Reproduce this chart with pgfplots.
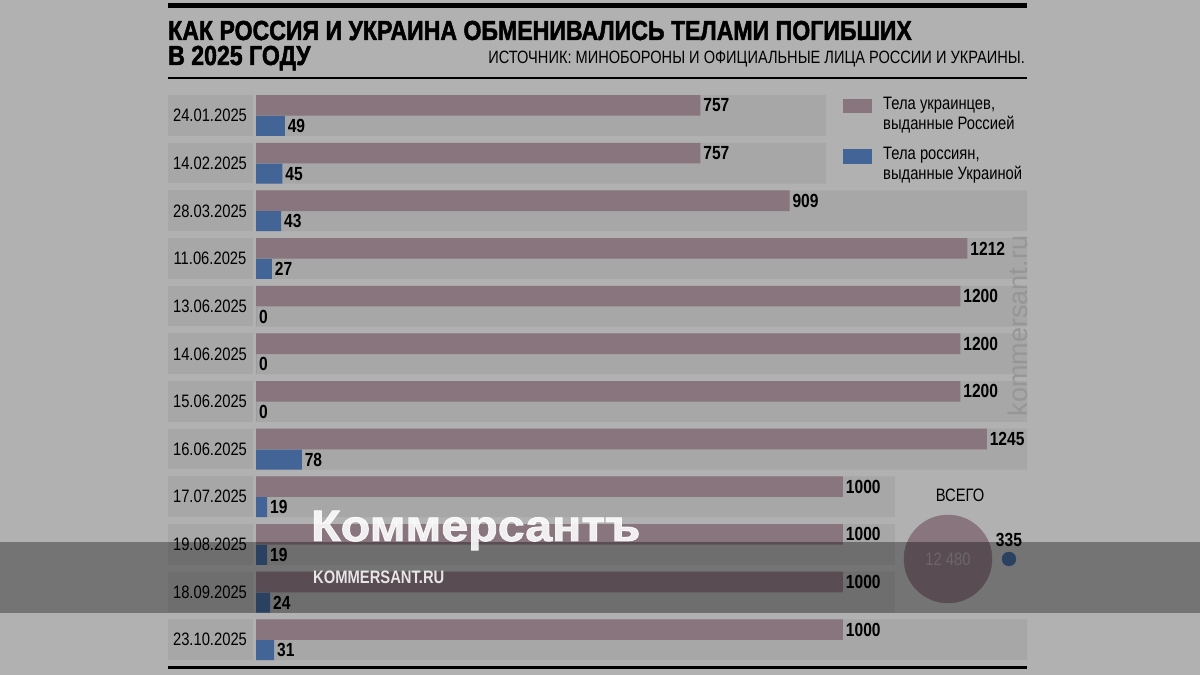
\documentclass[border=0pt]{standalone}
\usepackage{fontspec}
\setmainfont{Liberation Sans}[FakeStretch=0.82]
\newfontfamily\plainsans{Liberation Sans}
\newfontfamily\titlefont{Liberation Sans Bold}[FakeStretch=0.84, FakeBold=1.8]
\newfontfamily\logofont{Liberation Sans Bold}[FakeStretch=1.1, FakeBold=2]
\usepackage{pgfplots}
\usepackage{pgfplotstable}
\pgfplotsset{compat=1.18}
\definecolor{bgout}{RGB}{177,177,177}
\definecolor{band}{RGB}{167,167,167}
\definecolor{pinkbar}{RGB}{136,117,126}
\definecolor{bluebar}{RGB}{66,100,150}
\definecolor{wm}{RGB}{150,150,150}
\definecolor{totaltxt}{RGB}{165,155,160}

\pgfplotstableread{
y pink blue band
11 757 49 971
10 757 45 971
9 909 43 1313.5
8 1212 27 1313.5
7 1200 0 1313.5
6 1200 0 1313.5
5 1200 0 1313.5
4 1245 78 1313.5
3 1000 19 1088.6
2 1000 19 1088.6
1 1000 24 1088.6
0 1000 31 1313.5
}\datatable

\begin{document}
\begin{tikzpicture}[x=1pt,y=1pt]
\fill[bgout] (0,0) rectangle (1200,675);
\useasboundingbox (0,0) rectangle (1200,675);
% rules
\fill[black] (168,667) rectangle (1027,672);
\fill[black] (168,{675-79.5}) rectangle (1027,{675-77});
\fill[black] (168,{675-669}) rectangle (1027,{675-666});
% title
\node[anchor=base west, inner sep=0, font=\titlefont\fontsize{27.5}{30}\selectfont] at (168,{675-40}) {КАК РОССИЯ И УКРАИНА ОБМЕНИВАЛИСЬ ТЕЛАМИ ПОГИБШИХ};
\node[anchor=base west, inner sep=0, font=\titlefont\fontsize{27.5}{30}\selectfont] at (168,{675-65}) {В 2025 ГОДУ};
\node[anchor=base east, inner sep=0, font=\fontsize{17.8}{20}\selectfont] at (1025,{675-64}) {ИСТОЧНИК: МИНОБОРОНЫ И ОФИЦИАЛЬНЫЕ ЛИЦА РОССИИ И УКРАИНЫ.};
% date cells
\foreach \i in {0,...,11} {
  \fill[band] (168,{675-95-47.66*\i}) rectangle (252.5,{675-135.8-47.66*\i});
}
% legend
\fill[pinkbar] (843,{675-99}) rectangle (872,{675-113.5});
\fill[bluebar] (843,{675-149}) rectangle (872,{675-164});
\node[anchor=north west, inner sep=0, align=left, font=\fontsize{18}{19.5}\selectfont] at (883,{675-97}) {Тела украинцев,\\выданные Россией};
\node[anchor=north west, inner sep=0, align=left, font=\fontsize{18}{19.5}\selectfont] at (883,{675-147}) {Тела россиян,\\выданные Украиной};
\node[anchor=base, inner sep=0, font=\fontsize{18}{20}\selectfont] at (960,{675-501.5}) {ВСЕГО};

\begin{axis}[
  at={(256pt,11.4pt)}, anchor=south west,
  scale only axis, width=771pt, height=571.9pt,
  xmin=0, xmax=1313.5, ymin=-0.5, ymax=11.5,
  clip=false,
  axis line style={draw=none},
  major tick length=0pt,
  xtick=\empty,
  ytick={0,...,11},
  yticklabels={23.10.2025,18.09.2025,19.08.2025,17.07.2025,16.06.2025,15.06.2025,14.06.2025,13.06.2025,11.06.2025,28.03.2025,14.02.2025,24.01.2025},
  yticklabel style={anchor=center, xshift=-46pt, font=\fontsize{18}{20}\selectfont},
  /pgf/number format/.cd, 1000 sep={}, assume math mode=true,
]
% row bands
\addplot[xbar, bar width=40.8pt, bar shift=0pt, fill=band, draw=none] table[x=band, y=y] {\datatable};
% Ukrainian bodies
\addplot[xbar, bar width=20.6pt, bar shift=10.1pt, fill=pinkbar, draw=none,
  nodes near coords, every node near coord/.append style={anchor=west, inner sep=2.8pt, yshift=10.1pt, font=\fontsize{19}{20}\selectfont\bfseries, text=black}]
  table[x=pink, y=y] {\datatable};
% Russian bodies
\addplot[xbar, bar width=20pt, bar shift=-10.4pt, fill=bluebar, draw=none,
  nodes near coords, every node near coord/.append style={anchor=west, inner sep=2.8pt, yshift=-10.4pt, font=\fontsize{19}{20}\selectfont\bfseries, text=black}]
  table[x=blue, y=y] {\datatable};
% totals
\addplot[color=pinkbar, only marks, mark=*, mark size=44pt, mark options={fill=pinkbar, draw=pinkbar},
  nodes near coords, point meta=explicit symbolic,
  every node near coord/.append style={anchor=center, inner sep=0pt, font=\fontsize{18}{20}\selectfont, text=totaltxt}]
  coordinates {(1178.9,1.695) [12 480]};
\addplot[color=bluebar, only marks, mark=*, mark size=7pt, mark options={fill=bluebar, draw=bluebar},
  nodes near coords, point meta=explicit symbolic,
  every node near coord/.append style={anchor=south, inner sep=0pt, yshift=12pt, font=\fontsize{19}{20}\selectfont\bfseries, text=black}]
  coordinates {(1282.8,1.695) [335]};
\end{axis}

% watermark
\node[rotate=90, anchor=base, inner sep=0, text=wm, font=\plainsans\fontsize{27}{27}\selectfont] at (1027,{675-326}) {kommersant.ru};
% overlay banner
\fill[black, opacity=0.34] (0,{675-613}) rectangle (1200,{675-542.5});
\node[anchor=base west, inner sep=0, text=white, opacity=0.88, font=\logofont\fontsize{44}{45}\selectfont] at (311,{675-541}) {Коммерсантъ};
\node[anchor=base west, inner sep=0, text=white, opacity=0.85, font=\fontsize{18}{20}\selectfont\bfseries] at (313,{675-584}) {KOMMERSANT.RU};
\end{tikzpicture}
\end{document}
